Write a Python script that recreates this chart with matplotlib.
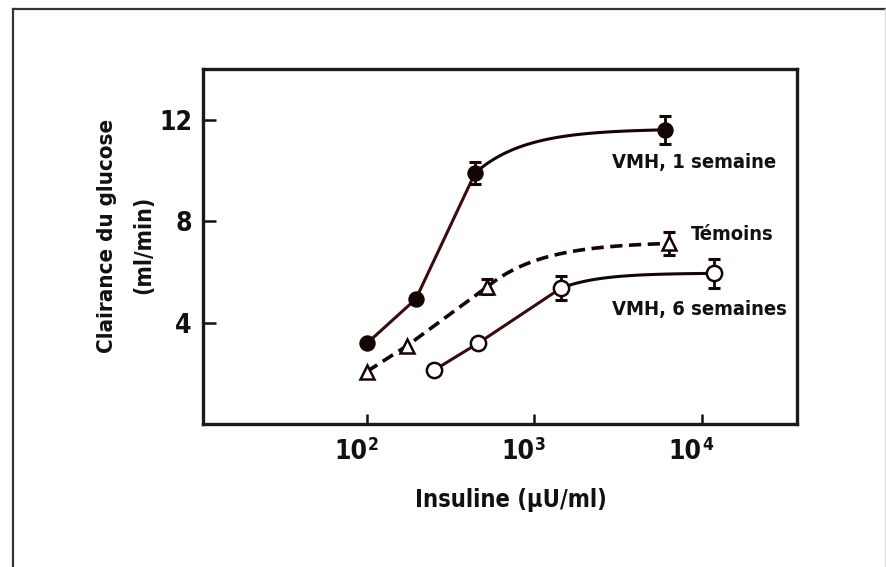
import numpy as np
import matplotlib
matplotlib.use("Agg")
import matplotlib.pyplot as plt
from matplotlib.lines import Line2D
from matplotlib import font_manager as fm

# ---- data ----
vmh1_x = [100, 196, 443, 6030]
vmh1_y = [3.18, 4.93, 9.9, 11.6]
vmh1_err = [0, 0, 0.45, 0.55]

tem_x = [100, 174, 523, 6360]
tem_y = [2.07, 3.09, 5.41, 7.12]
tem_err = [0, 0, 0.3, 0.46]

vmh6_x = [250, 460, 1435, 11900]
vmh6_y = [2.11, 3.18, 5.35, 5.94]
vmh6_err = [0, 0, 0.47, 0.57]

yticks = [4, 8, 12]
xticks = [1e2, 1e3, 1e4]
xtick_base = ['10', '10', '10']
xtick_exp = ['2', '3', '4']

labels = ['VMH, 1 semaine', 'Témoins', 'VMH, 6 semaines']

# ---- pick a condensed font if one is installed ----
cands = []
for f in fm.fontManager.ttflist:
    nm = f.name.lower()
    path = f.fname.lower()
    cond = ('narrow' in nm or 'condensed' in nm or 'condensed' in path
            or 'narrow' in path or str(f.stretch) in ('condensed', 'semi-condensed'))
    if cond and 'oblique' not in path and 'italic' not in path:
        w = f.weight if isinstance(f.weight, int) else 400
        score = abs(w - 650)
        cands.append((score, f.fname))
cands.sort()
if cands:
    FP = fm.FontProperties(fname=cands[0][1])
else:
    FP = fm.FontProperties(family='DejaVu Sans', weight='bold')


def fp(size):
    p = FP.copy()
    p.set_size(size)
    return p


line_col = '#3a0b0b'
dark = '#150505'
txtc = '#111111'

fig = plt.figure(figsize=(8.87, 5.67), dpi=100)
ax = fig.add_axes([203/887, 1-424/567, (797-203)/887, (424-69)/567])
ax.set_xscale('log')
ax.set_xlim(10.5, 3.7e4)
ax.set_ylim(0, 14.0)


def saturating(x0, y0, x1, y1, k):
    l0, l1 = np.log10(x0), np.log10(x1)
    t = np.linspace(0, 1, 100)
    f = (1 - np.exp(-k * t)) / (1 - np.exp(-k))
    return 10 ** (l0 + t * (l1 - l0)), y0 + (y1 - y0) * f


def draw(xs, ys, errs, k, marker, mfc, ls, col, lw, ms):
    ax.plot(xs[:3], ys[:3], ls=ls, color=col, lw=lw, zorder=2)
    cx, cy = saturating(xs[2], ys[2], xs[3], ys[3], k)
    ax.plot(cx, cy, ls=ls, color=dark, lw=lw, zorder=2)
    ax.plot(xs, ys, ls='none', marker=marker, ms=ms, mfc=mfc, mec=dark,
            mew=1.8, zorder=4)
    idx = [i for i, e in enumerate(errs) if e > 0]
    ax.errorbar([xs[i] for i in idx], [ys[i] for i in idx],
                yerr=[errs[i] for i in idx], fmt='none', ecolor=dark,
                elinewidth=2.0, capsize=4.5, capthick=2.2, zorder=3)


draw(vmh1_x, vmh1_y, vmh1_err, 3.8, 'o', dark, '-', line_col, 2.2, 10)
draw(tem_x, tem_y, tem_err, 3.3, '^', 'white', (0, (3.4, 1.8)), dark, 2.6, 10)
draw(vmh6_x, vmh6_y, vmh6_err, 4.0, 'o', 'white', '-', line_col, 2.2, 11)

big = 19
mid = 17
small = 14.5

ax.set_yticks(yticks)
ax.set_yticklabels([str(v) for v in yticks], fontproperties=fp(big))
ax.set_xticks(xticks)
ax.set_xticklabels(['' for _ in xticks])
ax.minorticks_off()
ax.tick_params(axis='y', direction='in', length=9, width=1.8,
               pad=8, colors=txtc)
ax.tick_params(axis='x', direction='in', length=7, width=1.8, colors=txtc)

# x tick labels: "10" with superscript exponent
xt = ax.get_xaxis_transform()
for xv, b, e in zip(xticks, xtick_base, xtick_exp):
    ax.text(xv, -0.08, b, transform=xt, ha='right', va='center',
            fontproperties=fp(big), color=txtc)
    ax.text(xv * 1.01, -0.058, e, transform=xt, ha='left', va='center',
            fontproperties=fp(big * 0.66), color=txtc)

for s in ax.spines.values():
    s.set_linewidth(2.4)
    s.set_color('#1a1a1a')

fig.text(511/887, 1-500/567, 'Insuline (µU/ml)', ha='center', va='center',
         fontproperties=fp(mid), color=txtc)
fig.text(107/887, 1-236/567, 'Clairance du glucose', ha='center', va='center',
         rotation=90, fontproperties=fp(16), color=txtc)
fig.text(144/887, 1-245/567, '(ml/min)', ha='center', va='center',
         rotation=90, fontproperties=fp(16.5), color=txtc)

ax.text(2925, 10.3, labels[0], fontproperties=fp(small), color=txtc,
        ha='left', va='center')
ax.text(8550, 7.46, labels[1], fontproperties=fp(small), color=txtc,
        ha='left', va='center')
ax.text(2925, 4.5, labels[2], fontproperties=fp(small), color=txtc,
        ha='left', va='center')

# outer frame
fig.add_artist(Line2D([13/887, 13/887], [0, 1-9/567], transform=fig.transFigure,
                      color='#333333', lw=1.6))
fig.add_artist(Line2D([13/887, 1], [1-9/567, 1-9/567], transform=fig.transFigure,
                      color='#333333', lw=1.6))
fig.add_artist(Line2D([885/887, 885/887], [0, 1-9/567], transform=fig.transFigure,
                      color='#dddddd', lw=1.0))

fig.savefig('out.png', dpi=100)
